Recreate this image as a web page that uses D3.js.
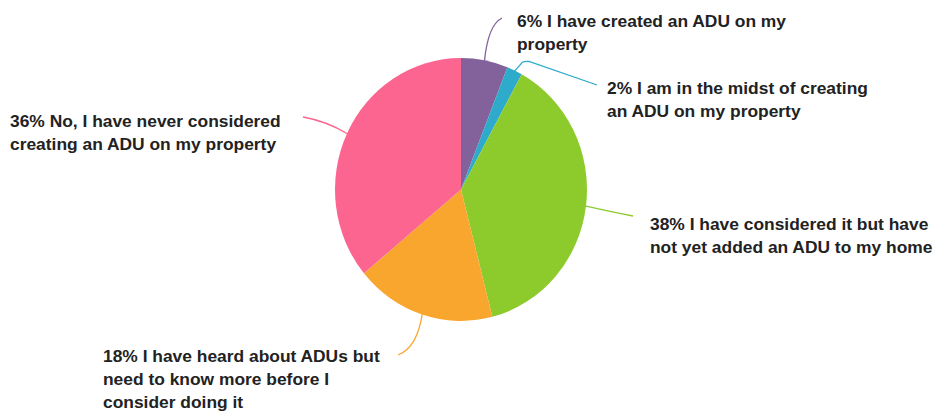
<!DOCTYPE html>
<html>
<head>
<meta charset="utf-8">
<script src="https://cdn.jsdelivr.net/npm/d3@7"></script>
<style>
  html, body { margin: 0; padding: 0; background: #fff; }
  svg { display: block; }
  text { font-family: "Liberation Sans", Arial, Helvetica, sans-serif; font-weight: bold; fill: #222; }
</style>
</head>
<body>
<svg id="chart" width="935" height="414"></svg>
<script>
// Survey responses about accessory dwelling units (ADUs), clockwise from 12 o'clock
const responses = [
  "I have created an ADU on my property",
  "I am in the midst of creating an ADU on my property",
  "I have considered it but have not yet added an ADU to my home",
  "I have heard about ADUs but need to know more before I consider doing it",
  "No, I have never considered creating an ADU on my property"
];
const percents = [6, 2, 38, 18, 36];
const sliceColors = ["#83619b", "#2eaacb", "#8dcb2d", "#f9a62e", "#fb6590"];

// Label text broken into lines
const labelLines = [
  ["6% I have created an ADU on my", "property"],
  ["2% I am in the midst of creating", "an ADU on my property"],
  ["38% I have considered it but have", "not yet added an ADU to my home"],
  ["18% I have heard about ADUs but", "need to know more before I", "consider doing it"],
  ["36% No, I have never considered", "creating an ADU on my property"]
];

// Layout: label text origin (first baseline) and leader-line route
// (optional straight run to a bend, a curved corner, then the end point)
const labelLayout = [
  { x: 517, y: 27, end: [502, 18], ctrl: [488, 25] },
  { x: 607, y: 94, end: [597, 85], ctrl: [522, 61], bend: [521, 64], after: [529, 61.5] },
  { x: 650, y: 230, end: [633, 216], ctrl: [612, 212] },
  { x: 103, y: 362, end: [398, 355], ctrl: [417, 348] },
  { x: 10, y: 127, end: [303, 117], ctrl: [326, 121] }
];

const svg = d3.select("#chart");
const cx = 461, cy = 189.5, r = 131.5, sx = 126 / 131.5;

const pie = d3.pie().sort(null).value(d => d)(percents);
const arc = d3.arc().innerRadius(0).outerRadius(r);

const g = svg.append("g")
  .attr("transform", `translate(${cx},${cy}) scale(${sx},1)`);

g.selectAll("path.slice")
  .data(pie)
  .join("path")
  .attr("class", "slice")
  .attr("d", arc)
  .attr("fill", (d, i) => sliceColors[i]);

// Leader lines: from the slice's outer edge, bending toward its label
const edgePoint = d => {
  const a = (d.startAngle + d.endAngle) / 2;
  return [cx + sx * (r - 1) * Math.sin(a), cy - (r - 1) * Math.cos(a)];
};

svg.selectAll("path.leader")
  .data(pie)
  .join("path")
  .attr("class", "leader")
  .attr("fill", "none")
  .attr("stroke", (d, i) => sliceColors[i])
  .attr("stroke-width", 1.3)
  .attr("d", (d, i) => {
    const p = d3.path();
    const s = edgePoint(d);
    const L = labelLayout[i];
    p.moveTo(s[0], s[1]);
    if (L.bend) {
      p.lineTo(L.bend[0], L.bend[1]);
      p.quadraticCurveTo(L.ctrl[0], L.ctrl[1], L.after[0], L.after[1]);
      p.lineTo(L.end[0], L.end[1]);
    } else {
      p.quadraticCurveTo(L.ctrl[0], L.ctrl[1], L.end[0], L.end[1]);
    }
    return p.toString();
  });

// Labels
const labels = svg.selectAll("text.label")
  .data(labelLines)
  .join("text")
  .attr("class", "label")
  .attr("x", (d, i) => labelLayout[i].x)
  .attr("y", (d, i) => labelLayout[i].y)
  .style("font-size", "17.4px");

labels.selectAll("tspan")
  .data((d, i) => d.map(t => ({ t, i })))
  .join("tspan")
  .attr("x", d => labelLayout[d.i].x)
  .attr("dy", (d, j) => j === 0 ? 0 : 23)
  .text(d => d.t);
</script>
</body>
</html>
